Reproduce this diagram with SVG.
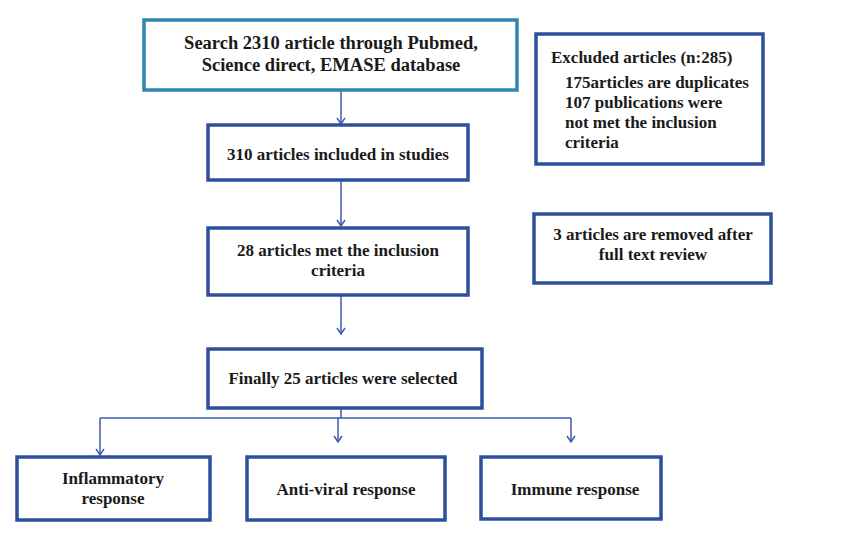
<svg xmlns="http://www.w3.org/2000/svg" width="859" height="539" viewBox="0 0 859 539">
<defs>
<style>
.box{fill:#fff;stroke:#2d4f9c;stroke-width:3.5}
.top{fill:#fff;stroke:#2f87ad;stroke-width:3.5}
.t{font-family:"Liberation Serif","Times New Roman",serif;font-weight:bold;font-size:17px;fill:#1a1a1a}
.big{font-size:18.5px}
.c{text-anchor:middle}
.ln{fill:none;stroke:#3a5ea8;stroke-width:1.5}
</style>
<marker id="ah" markerWidth="10" markerHeight="10" refX="8" refY="5" orient="auto" markerUnits="userSpaceOnUse" viewBox="0 0 10 10">
<path d="M2,1 L8,5 L2,9" fill="none" stroke="#3a5ea8" stroke-width="1.5"/>
</marker>
</defs>
<rect width="859" height="539" fill="#fff"/>
<g id="connectors">
<path class="ln" d="M341,90 V124" marker-end="url(#ah)"/>
<path class="ln" d="M341,180 V226" marker-end="url(#ah)"/>
<path class="ln" d="M341,296 V334" marker-end="url(#ah)"/>
<path class="ln" d="M341,408 V418"/>
<path class="ln" d="M100,418 H571"/>
<path class="ln" d="M100,418 V455" marker-end="url(#ah)"/>
<path class="ln" d="M338,418 V442" marker-end="url(#ah)"/>
<path class="ln" d="M571,418 V442" marker-end="url(#ah)"/>
</g>
<g id="search">
<rect class="top" x="144" y="20" width="373" height="70"/>
<text class="t big c" x="331" y="49">Search 2310 article through Pubmed,</text>
<text class="t big c" x="331" y="71">Science direct, EMASE database</text>
</g>
<g id="excluded">
<rect class="box" x="536" y="34" width="227" height="130"/>
<text class="t" x="551" y="63">Excluded articles (n:285)</text>
<text class="t" x="565" y="88">175articles are duplicates</text>
<text class="t" x="565" y="108">107 publications were</text>
<text class="t" x="565" y="128">not met the inclusion</text>
<text class="t" x="565" y="148">criteria</text>
</g>
<g id="included">
<rect class="box" x="208" y="125" width="260" height="55"/>
<text class="t c" x="338" y="160">310 articles included in studies</text>
</g>
<g id="met">
<rect class="box" x="208" y="228" width="260" height="67"/>
<text class="t c" x="338" y="256">28 articles met the inclusion</text>
<text class="t c" x="338" y="276">criteria</text>
</g>
<g id="removed">
<rect class="box" x="534" y="214" width="237" height="69"/>
<text class="t c" x="653" y="240">3 articles are removed after</text>
<text class="t c" x="653" y="260">full text review</text>
</g>
<g id="final">
<rect class="box" x="208" y="349" width="274" height="59"/>
<text class="t c" x="343" y="384">Finally 25 articles were selected</text>
</g>
<g id="inflammatory">
<rect class="box" x="17" y="457" width="193" height="63"/>
<text class="t c" x="113" y="484">Inflammatory</text>
<text class="t c" x="113" y="504">response</text>
</g>
<g id="antiviral">
<rect class="box" x="247" y="457" width="198" height="63"/>
<text class="t c" x="346" y="495">Anti-viral response</text>
</g>
<g id="immune">
<rect class="box" x="481" y="457" width="180" height="62"/>
<text class="t c" x="575" y="495">Immune response</text>
</g>
</svg>
